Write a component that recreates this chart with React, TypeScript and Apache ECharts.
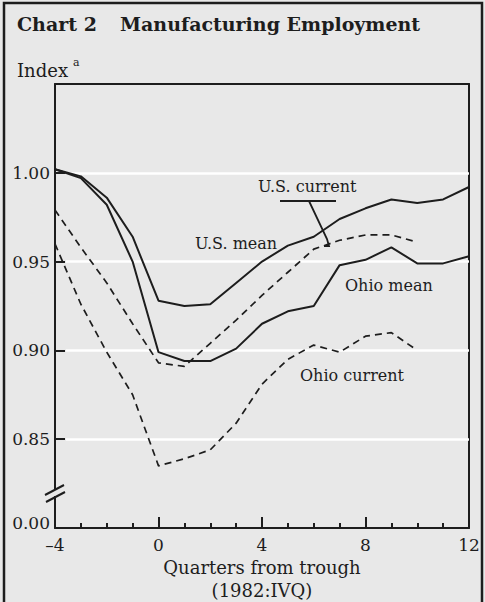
import React, { useEffect, useRef } from "react";
import * as echarts from "echarts";

// ---- data ----
const quarters = [-4, -3, -2, -1, 0, 1, 2, 3, 4, 5, 6, 7, 8, 9, 10, 11, 12];
const usMean = [1.002, 0.998, 0.986, 0.964, 0.928, 0.925, 0.926, 0.938, 0.95, 0.959, 0.964, 0.974, 0.98, 0.985, 0.983, 0.985, 0.992];
const ohioMean = [1.002, 0.997, 0.982, 0.95, 0.899, 0.894, 0.894, 0.901, 0.915, 0.922, 0.925, 0.948, 0.951, 0.958, 0.949, 0.949, 0.953];
const usCurrent = [0.979, 0.958, 0.938, 0.915, 0.893, 0.891, 0.904, 0.917, 0.931, 0.944, 0.957, 0.962, 0.965, 0.965, 0.961];
const ohioCurrent = [0.96, 0.926, 0.899, 0.875, 0.835, 0.839, 0.844, 0.859, 0.881, 0.895, 0.903, 0.899, 0.908, 0.91, 0.9];
const gridValues = [0.85, 0.9, 0.95, 1.0];
const yMin = 0.8;
const yMax = 1.05;
const yStep = 0.05;
const xMin = -4;
const xMax = 12;
const xStep = 4;
const xMinorStep = 1;
const brokenBaseLabel = "0.00";
const titleLead = "Chart 2";
const titleMain = "Manufacturing Employment";
const yName = "Index";
const yNameNote = "a";
const xNameLine1 = "Quarters from trough";
const xNameLine2 = "(1982:IVQ)";

const FONT = "'DejaVu Serif', 'Liberation Serif', serif";
const INK = "#1d1d1d";
const BG = "#e8e8e8";
const GRID_START = 0.42; // white grid lines begin just past the y ticks (in quarters)

function toPairs(vals: number[]) {
  return vals.map((v, i) => [quarters[i], v]);
}

export default function App() {
  const ref = useRef<HTMLDivElement>(null);
  useEffect(() => {
    if (!ref.current) return;
    const chart = echarts.init(ref.current, null, { renderer: "svg" });

    const lineSeries = (name: string, vals: number[], dashed: boolean, extra: any = {}) => ({
      type: "line",
      name,
      data: toPairs(vals),
      symbol: "none",
      silent: true,
      lineStyle: { color: INK, width: dashed ? 1.7 : 2, type: dashed ? [7, 5] : "solid" },
      ...extra,
    });

    const textEl = (text: string, x: number, y: number, size: number, bold = false, align = "left") => ({
      type: "text",
      x,
      y,
      z: 100,
      style: {
        text,
        fill: INK,
        fontFamily: FONT,
        fontSize: size,
        fontWeight: bold ? "bold" : "normal",
        verticalAlign: "middle",
        align,
      },
    });

    const option: any = {
      animation: false,
      backgroundColor: BG,
      grid: {
        left: 55,
        top: 84,
        right: 16,
        bottom: 74,
        containLabel: false,
        outerBoundsMode: "none",
      },
      xAxis: [
        {
          type: "value",
          position: "bottom",
          min: xMin,
          max: xMax,
          interval: xStep,
          axisLine: { show: true, onZero: false, lineStyle: { color: INK, width: 2 } },
          axisTick: { show: true, inside: true, length: 11, lineStyle: { color: INK, width: 2 } },
          splitLine: { show: false },
          axisLabel: {
            color: INK,
            fontFamily: FONT,
            fontSize: 17,
            margin: 8,
            formatter: (v: number) => (v < 0 ? "\u2013" + Math.abs(v) : String(v)),
          },
        },
        {
          type: "value",
          position: "top",
          min: xMin,
          max: xMax,
          axisLine: { show: true, onZero: false, lineStyle: { color: INK, width: 2 } },
          axisTick: { show: false },
          axisLabel: { show: false },
          splitLine: { show: false },
        },
        {
          type: "value",
          position: "bottom",
          offset: 0,
          min: xMin,
          max: xMax,
          interval: xMinorStep,
          axisLine: { show: false, onZero: false },
          axisTick: { show: true, inside: true, length: 5, lineStyle: { color: INK, width: 2 } },
          axisLabel: { show: false },
          splitLine: { show: false },
        },
      ],
      yAxis: [
        {
          type: "value",
          min: yMin,
          max: yMax,
          interval: yStep,
          axisLine: { show: true, onZero: false, lineStyle: { color: INK, width: 2 } },
          axisTick: { show: true, inside: true, length: 10, lineStyle: { color: INK, width: 2 } },
          splitLine: { show: false },
          axisLabel: {
            color: INK,
            fontFamily: FONT,
            fontSize: 17,
            margin: 5,
            formatter: (v: number) => {
              if (Math.abs(v - yMin) < 1e-6) return "{b|" + brokenBaseLabel + "}";
              if (Math.abs(v - yMax) < 1e-6) return "";
              return v.toFixed(2);
            },
            rich: {
              b: { color: INK, fontFamily: FONT, fontSize: 17, padding: [0, 0, 11, 0] },
            },
          },
        },
        {
          type: "value",
          position: "right",
          min: yMin,
          max: yMax,
          axisLine: { show: true, onZero: false, lineStyle: { color: INK, width: 2 } },
          axisTick: { show: false },
          axisLabel: { show: false },
          splitLine: { show: false },
        },
      ],
      series: [
        lineSeries("U.S. mean", usMean, false, {
          markLine: {
            silent: true,
            symbol: "none",
            z: 1,
            label: { show: false },
            lineStyle: { color: "#ffffff", width: 2.5, type: "solid" },
            data: gridValues.map((v) => [
              { coord: [xMin + GRID_START, v] },
              { coord: [xMax, v] },
            ]),
          },
        }),
        lineSeries("Ohio mean", ohioMean, false),
        lineSeries("U.S. current", usCurrent, true),
        lineSeries("Ohio current", ohioCurrent, true),
      ],
      graphic: [
        {
          type: "rect",
          z: 100,
          shape: { x: 4, y: 3, width: 478, height: 640 },
          style: { fill: "none", stroke: INK, lineWidth: 2.5 },
        },
        textEl(titleLead, 17, 24, 19, true),
        textEl(titleMain, 120, 24, 19, true),
        textEl(yName, 17, 70, 18),
        textEl(yNameNote, 73, 62, 11),
        textEl(xNameLine1, 262, 567, 18, false, "center"),
        textEl(xNameLine2, 262, 590, 18, false, "center"),
        {
          type: "rect",
          z: 100,
          shape: { x: 52, y: 490, width: 7, height: 6 },
          style: { fill: BG },
        },
        {
          type: "line",
          z: 101,
          shape: { x1: 45, y1: 495, x2: 64, y2: 485 },
          style: { stroke: INK, lineWidth: 2 },
        },
        {
          type: "line",
          z: 101,
          shape: { x1: 46, y1: 502, x2: 65, y2: 492 },
          style: { stroke: INK, lineWidth: 2 },
        },
        textEl("U.S. current", 258, 186, 16),
        {
          type: "polyline",
          z: 100,
          shape: { points: [[280, 201], [336, 201]] },
          style: { stroke: INK, lineWidth: 2, fill: "none" },
        },
        {
          type: "polyline",
          z: 100,
          shape: { points: [[309, 201], [327, 239], [329, 246], [324, 246]] },
          style: { stroke: INK, lineWidth: 1.8, fill: "none" },
        },
        textEl("U.S. mean", 195, 243, 16),
        textEl("Ohio mean", 345, 285, 16),
        textEl("Ohio current", 300, 375, 16),
      ],
    };

    chart.setOption(option);
    return () => chart.dispose();
  }, []);

  return (
    <div
      ref={ref}
      style={{ position: "fixed", left: 0, top: 0, width: 485, height: 602 }}
    />
  );
}
